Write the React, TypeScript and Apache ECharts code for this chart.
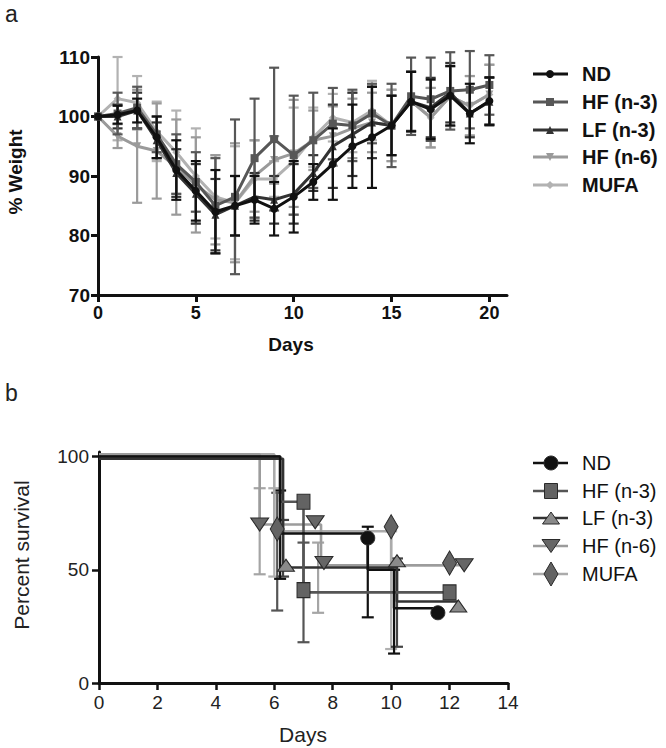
import React, { useEffect, useRef } from "react";
import * as echarts from "echarts";

// ---------- Panel a: % weight ----------
const daysA = [0, 1, 2, 3, 4, 5, 6, 7, 8, 9, 10, 11, 12, 13, 14, 15, 16, 17, 18, 19, 20];
const ndA = [100, 100.3, 101, 96.5, 91, 87.5, 84, 85, 86, 84.5, 86.5, 89, 92, 95, 96.5, 98.5, 102.5, 101.2, 103.5, 100.5, 102.6];
const ndErrA = [0, 1.5, 2, 3.5, 5, 5, 7, 5, 4, 4.5, 6, 3, 6, 7, 8.5, 5, 5, 5, 5, 5, 4];
const hf3A = [100, 100.5, 101.5, 97, 92, 89, 85, 86.5, 93, 96.2, 93.5, 96, 98.8, 98.5, 100.5, 98.5, 103.4, 102.9, 104.3, 104.5, 105.3];
const hf3ErrA = [0, 3.5, 3.5, 3, 5, 5, 8, 13, 10, 12, 10, 8, 6, 6, 5, 7, 6.5, 7, 6.5, 6.5, 5];
const lf3A = [100, 100, 101, 96, 90.5, 87, 83.5, 85, 86.5, 86, 87, 90.5, 95, 97, 99, 98.5, 102.5, 101.5, 104, 100.5, 102.5];
const lf3ErrA = [0, 2, 3, 3, 4, 5, 6, 5, 4, 4, 5, 3, 7, 7, 6, 5, 5, 5, 5, 4, 4];
const hf6A = [100, 96.7, 95, 94.2, 91.5, 88.5, 86, 85.5, 90, 92.7, 93.8, 96, 96.7, 98, 99, 98.5, 102.6, 99.8, 103.4, 101.8, 103.7];
const hf6ErrA = [0, 2, 9.5, 8, 8, 8, 7.5, 10, 6, 4, 9, 5, 5, 5, 5, 6, 5, 5, 5, 5, 5];
const mufaA = [100, 103, 102.3, 97.5, 94, 90, 86.5, 85.5, 89.5, 89.5, 92.5, 96.5, 99.8, 99, 101, 98.5, 102.6, 99.8, 103.4, 101.8, 103.7];
const mufaErrA = [0, 7, 4.5, 5, 7, 8, 7, 9.5, 6.5, 3, 9, 5, 4, 5, 5, 6, 5, 5, 5, 5, 5];
const xTicksA = [0, 5, 10, 15, 20];

// ---------- Panel b: survival ----------
const ndSteps = [[0, 100], [6.2, 66], [9.2, 50], [10.1, 33], [11.6, 33]];
const ndMarks = [[9.2, 64], [11.6, 31]];
const ndErrB = [[6.2, 46, 85], [9.2, 29, 69], [10.1, 13, 50]];
const hf3Steps = [[0, 100], [6.2, 80], [7.0, 40], [12.0, 40]];
const hf3Marks = [[7.0, 80], [7.0, 41], [12.0, 40]];
const hf3ErrB = [[6.1, 32, 84], [7.0, 18, 62]];
const lf3Steps = [[0, 99], [6.3, 51], [10.2, 36], [12.3, 36]];
const lf3Marks = [[6.4, 52], [10.2, 54], [12.3, 34]];
const lf3ErrB = [[6.3, 47, 72], [10.2, 16, 55]];
const hf6Steps = [[0, 101], [5.5, 70], [7.6, 52], [12.5, 52]];
const hf6Marks = [[5.5, 70], [7.4, 71], [7.7, 53], [12.5, 52]];
const hf6ErrB = [[5.5, 48, 86], [7.5, 31, 62]];
const mufaSteps = [[0, 101], [6.0, 67], [10.0, 52], [12.0, 52]];
const mufaMarks = [[6.1, 68], [10.0, 69], [12.0, 53]];
const mufaErrB = [[6.0, 47, 86], [10.0, 15, 67]];
const yTicksB = [0, 50, 100];

const legendNames = ["ND", "HF (n-3)", "LF (n-3)", "HF (n-6)", "MUFA"];

const FONT = "'Liberation Sans', Arial, Helvetica, sans-serif";

function errData(x: number[], y: number[], e: number[]) {
  return x.map((d, i) => [d, y[i] - e[i], y[i] + e[i]]);
}

function errorSeries(data: number[][], color: string, axis: number, capW: number, lw: number, z: number) {
  return {
    type: "custom",
    xAxisIndex: axis,
    yAxisIndex: axis,
    silent: true,
    z,
    encode: { x: 0, y: [1, 2] },
    data,
    renderItem: (params: any, api: any) => {
      const x = api.value(0);
      const lo = api.value(1);
      const hi = api.value(2);
      if (hi - lo <= 0) return null;
      const p1 = api.coord([x, lo]);
      const p2 = api.coord([x, hi]);
      const style = { stroke: color, lineWidth: lw, fill: "none" };
      return {
        type: "group",
        children: [
          { type: "line", shape: { x1: p1[0], y1: p1[1], x2: p2[0], y2: p2[1] }, style },
          { type: "line", shape: { x1: p1[0] - capW, y1: p1[1], x2: p1[0] + capW, y2: p1[1] }, style },
          { type: "line", shape: { x1: p2[0] - capW, y1: p2[1], x2: p2[0] + capW, y2: p2[1] }, style },
        ],
      };
    },
  };
}

function symbolGraphic(kind: string, cx: number, cy: number, w: number, h: number, fill: string, stroke: string, lw: number) {
  const style = { fill, stroke, lineWidth: lw };
  if (kind === "circle") return { type: "circle", shape: { cx, cy, r: w / 2 }, style };
  if (kind === "rect") return { type: "rect", shape: { x: cx - w / 2, y: cy - h / 2, width: w, height: h }, style };
  if (kind === "triangle")
    return { type: "polygon", shape: { points: [[cx, cy - h / 2], [cx + w / 2, cy + h / 2], [cx - w / 2, cy + h / 2]] }, style };
  if (kind === "down")
    return { type: "polygon", shape: { points: [[cx - w / 2, cy - h / 2], [cx + w / 2, cy - h / 2], [cx, cy + h / 2]] }, style };
  return { type: "polygon", shape: { points: [[cx, cy - h / 2], [cx + w / 2, cy], [cx, cy + h / 2], [cx - w / 2, cy]] }, style };
}

export default function App() {
  const ref = useRef<HTMLDivElement>(null);

  useEffect(() => {
    if (!ref.current) return;
    const chart = echarts.init(ref.current, undefined, { renderer: "svg" });

    const colA = ["#111111", "#575757", "#333333", "#9a9a9a", "#b2b2b2"];
    const symA = ["circle", "rect", "triangle", "triangle", "diamond"];
    const rotA = [0, 0, 0, 180, 0];
    const valsA = [ndA, hf3A, lf3A, hf6A, mufaA];
    const errsA = [ndErrA, hf3ErrA, lf3ErrA, hf6ErrA, mufaErrA];

    const lineColB = ["#111111", "#555555", "#333333", "#9c9c9c", "#ababab"];
    const markFillB = ["#111111", "#636363", "#8a8a8a", "#666666", "#636363"];
    const errColB = ["#111111", "#555555", "#444444", "#a5a5a5", "#b0b0b0"];
    const stepsB = [ndSteps, hf3Steps, lf3Steps, hf6Steps, mufaSteps];
    const marksB = [ndMarks, hf3Marks, lf3Marks, hf6Marks, mufaMarks];
    const errsB = [ndErrB, hf3ErrB, lf3ErrB, hf6ErrB, mufaErrB];
    const symB = ["circle", "rect", "triangle", "triangle", "diamond"];
    const rotB = [0, 0, 0, 180, 0];
    const sizeB: any[] = [14, [13, 15], [17, 12], [18, 13], [14, 24]];

    const series: any[] = [];
    // panel a
    for (let i = 4; i >= 0; i--) {
      series.push(errorSeries(errData(daysA, valsA[i], errsA[i]), colA[i], 0, 5, 2.2, 2 + (4 - i)));
      series.push({
        type: "line",
        xAxisIndex: 0,
        yAxisIndex: 0,
        data: daysA.map((d, k) => [d, valsA[i][k]]),
        symbol: symA[i],
        symbolRotate: rotA[i],
        symbolSize: 8,
        itemStyle: { color: colA[i], opacity: 1 },
        lineStyle: { color: colA[i], width: 3 },
        z: 2 + (4 - i),
        silent: true,
      });
    }
    // panel b
    for (let i = 4; i >= 0; i--) {
      series.push(errorSeries(errsB[i], errColB[i], 1, 6, 2.2, 2));
      series.push({
        type: "line",
        xAxisIndex: 1,
        yAxisIndex: 1,
        step: "end",
        data: stepsB[i],
        symbol: "none",
        lineStyle: { color: lineColB[i], width: 2.6 },
        z: 3,
        silent: true,
      });
      series.push({
        type: "scatter",
        xAxisIndex: 1,
        yAxisIndex: 1,
        data: marksB[i],
        symbol: symB[i],
        symbolRotate: rotB[i],
        symbolSize: sizeB[i],
        itemStyle: { color: markFillB[i], borderColor: "#2a2a2a", borderWidth: 1, opacity: 1 },
        z: 5,
        silent: true,
      });
    }

    // legends
    const legendA: any[] = [];
    const yA = [74, 102, 130, 157, 185];
    for (let i = 0; i < 5; i++) {
      legendA.push({ type: "line", shape: { x1: 533, y1: yA[i], x2: 568, y2: yA[i] }, style: { stroke: colA[i], lineWidth: 3 } });
      legendA.push(symbolGraphic(i === 3 ? "down" : symA[i], 550, yA[i], 8, 8, colA[i], colA[i], 0));
      legendA.push({
        type: "text",
        x: 582,
        y: yA[i],
        style: { text: legendNames[i], font: `bold 20px ${FONT}`, fill: "#111", verticalAlign: "middle", align: "left" },
      });
    }
    const legendB: any[] = [];
    const yB = [463, 491, 518, 546, 574];
    const legSizeB = [[14, 14], [13, 15], [17, 12], [18, 13], [14, 24]];
    for (let i = 0; i < 5; i++) {
      legendB.push({ type: "line", shape: { x1: 533, y1: yB[i], x2: 568, y2: yB[i] }, style: { stroke: lineColB[i], lineWidth: 2.6 } });
      legendB.push(
        symbolGraphic(i === 3 ? "down" : symB[i], 551, yB[i], legSizeB[i][0], legSizeB[i][1], markFillB[i], "#2a2a2a", 1)
      );
      legendB.push({
        type: "text",
        x: 582,
        y: yB[i],
        style: { text: legendNames[i], font: `20px ${FONT}`, fill: "#111", verticalAlign: "middle", align: "left" },
      });
    }

    const axisCommonA = {
      axisLine: { show: true, onZero: false, lineStyle: { color: "#111", width: 3 } },
      axisTick: { show: true, length: 7, lineStyle: { color: "#111", width: 3 } },
      splitLine: { show: false },
    };
    const axisCommonB = {
      axisLine: { show: true, onZero: false, lineStyle: { color: "#111", width: 3 } },
      axisTick: { show: true, length: 7, lineStyle: { color: "#111", width: 2.5 } },
      splitLine: { show: false },
    };

    chart.setOption({
      animation: false,
      backgroundColor: "#ffffff",
      grid: [
        { left: 98, top: 57, width: 409, height: 238 },
        { left: 99, top: 452, width: 409, height: 231 },
      ],
      xAxis: [
        {
          type: "value",
          gridIndex: 0,
          min: 0,
          max: 20.9,
          ...axisCommonA,
          axisTick: { ...axisCommonA.axisTick, customValues: xTicksA },
          axisLabel: { customValues: xTicksA, margin: 9, color: "#111", fontWeight: "bold", fontSize: 18, fontFamily: FONT },
        },
        {
          type: "value",
          gridIndex: 1,
          min: 0,
          max: 14,
          interval: 2,
          ...axisCommonB,
          axisLabel: { margin: 10, color: "#222", fontSize: 19, fontFamily: FONT },
        },
      ],
      yAxis: [
        {
          type: "value",
          gridIndex: 0,
          min: 70,
          max: 110,
          interval: 10,
          ...axisCommonA,
          axisLabel: { margin: 8, color: "#111", fontWeight: "bold", fontSize: 19, fontFamily: FONT },
        },
        {
          type: "value",
          gridIndex: 1,
          min: 0,
          max: 102,
          ...axisCommonB,
          axisTick: { ...axisCommonB.axisTick, customValues: yTicksB },
          axisLabel: { customValues: yTicksB, margin: 10, color: "#222", fontSize: 19, fontFamily: FONT },
        },
      ],
      graphic: [
        { type: "text", x: 5, y: 2, style: { text: "a", font: `23px ${FONT}`, fill: "#222" } },
        { type: "text", x: 5, y: 381, style: { text: "b", font: `23px ${FONT}`, fill: "#222" } },
        {
          type: "text",
          x: 15,
          y: 172,
          rotation: Math.PI / 2,
          style: { text: "% Weight", font: `bold 19px ${FONT}`, fill: "#111", align: "center", verticalAlign: "middle" },
        },
        {
          type: "text",
          x: 291,
          y: 344,
          style: { text: "Days", font: `bold 19px ${FONT}`, fill: "#111", align: "center", verticalAlign: "middle" },
        },
        {
          type: "text",
          x: 21,
          y: 555,
          rotation: Math.PI / 2,
          style: { text: "Percent survival", font: `21px ${FONT}`, fill: "#222", align: "center", verticalAlign: "middle" },
        },
        {
          type: "text",
          x: 303,
          y: 734,
          style: { text: "Days", font: `21px ${FONT}`, fill: "#222", align: "center", verticalAlign: "middle" },
        },
        ...legendA,
        ...legendB,
      ],
      series,
    });

    return () => chart.dispose();
  }, []);

  return (
    <div
      ref={ref}
      style={{ position: "absolute", left: 0, top: 0, width: 666, height: 748, background: "#fff" }}
    />
  );
}
